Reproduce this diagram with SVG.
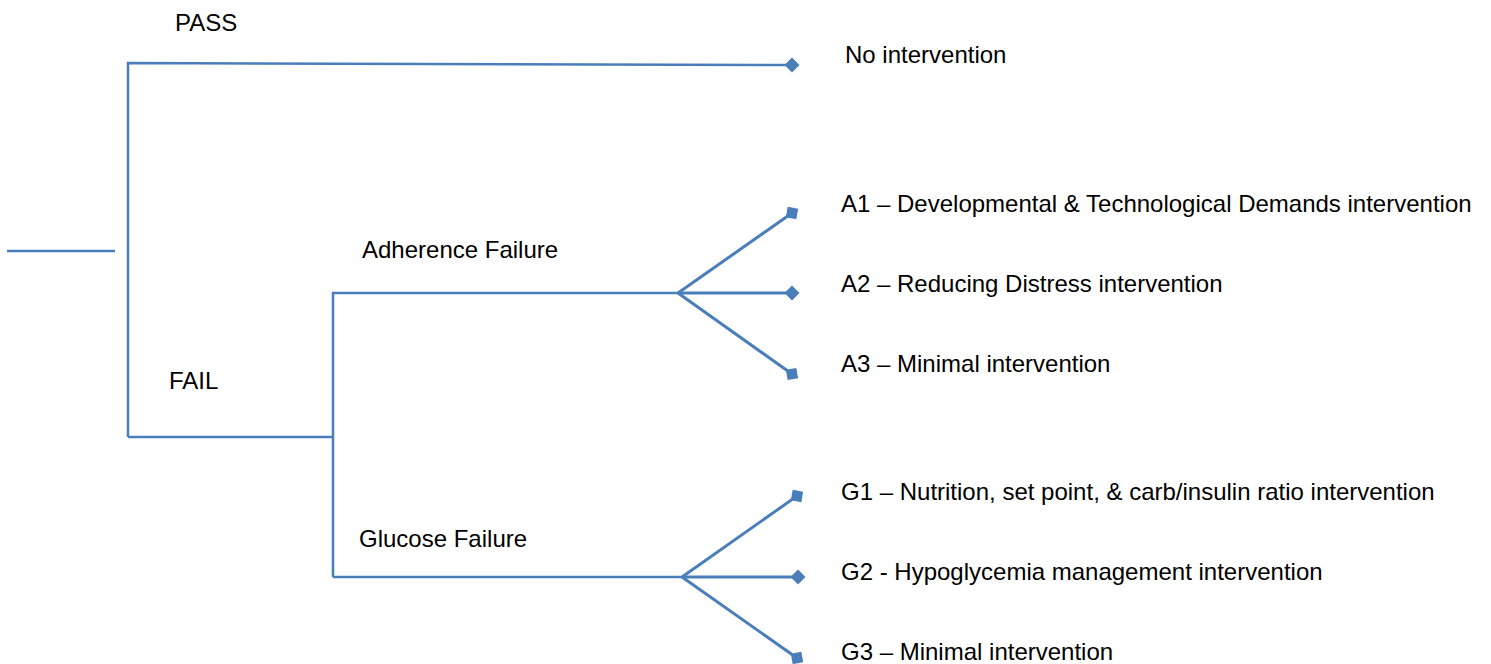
<svg xmlns="http://www.w3.org/2000/svg" width="1491" height="664" viewBox="0 0 1491 664">
<style>
.ln{stroke:#4a7ebb;stroke-width:2.5;fill:none}
.ln2{stroke:#4a7ebb;stroke-width:3;fill:none}
text{font-family:"Liberation Sans",Arial,sans-serif;font-size:24px;fill:#000}
</style>
<defs>
<marker id="dia" viewBox="-8 -8 16 16" markerWidth="16" markerHeight="16" markerUnits="userSpaceOnUse" refX="0" refY="0" orient="auto">
<path d="M-7.5 0 L0 -7.5 L7.5 0 L0 7.5 Z" fill="#4a7ebb"/>
</marker>
</defs>
<g id="connectors">
<line class="ln" x1="7" y1="251" x2="115" y2="251"/>
<polyline class="ln" points="128,437 128,63 792,65" marker-end="url(#dia)"/>
<polyline class="ln" points="128,437 333,437"/>
<polyline class="ln" points="333,577 333,293 678,293"/>
<line class="ln" x1="333" y1="577" x2="682" y2="577"/>
<line class="ln2" x1="678" y1="293" x2="792" y2="213" marker-end="url(#dia)"/>
<line class="ln2" x1="678" y1="293" x2="792" y2="293" marker-end="url(#dia)"/>
<line class="ln2" x1="678" y1="293" x2="792" y2="374" marker-end="url(#dia)"/>
<line class="ln2" x1="682" y1="577" x2="797" y2="496" marker-end="url(#dia)"/>
<line class="ln2" x1="682" y1="577" x2="798" y2="577" marker-end="url(#dia)"/>
<line class="ln2" x1="682" y1="577" x2="797" y2="658" marker-end="url(#dia)"/>
</g>
<g id="pass"><text x="175" y="30.5">PASS</text></g>
<g id="fail"><text x="169" y="389">FAIL</text></g>
<g id="adherence"><text x="362" y="258">Adherence Failure</text></g>
<g id="glucose"><text x="359" y="547">Glucose Failure</text></g>
<g id="no-int"><text x="845" y="63">No intervention</text></g>
<g id="a1"><text x="841" y="212">A1 – Developmental &amp; Technological Demands intervention</text></g>
<g id="a2"><text x="841" y="292">A2 – Reducing Distress intervention</text></g>
<g id="a3"><text x="841" y="372">A3 – Minimal intervention</text></g>
<g id="g1"><text x="841" y="500">G1 – Nutrition, set point, &amp; carb/insulin ratio intervention</text></g>
<g id="g2"><text x="841" y="580">G2 - Hypoglycemia management intervention</text></g>
<g id="g3"><text x="841" y="660">G3 – Minimal intervention</text></g>
</svg>
